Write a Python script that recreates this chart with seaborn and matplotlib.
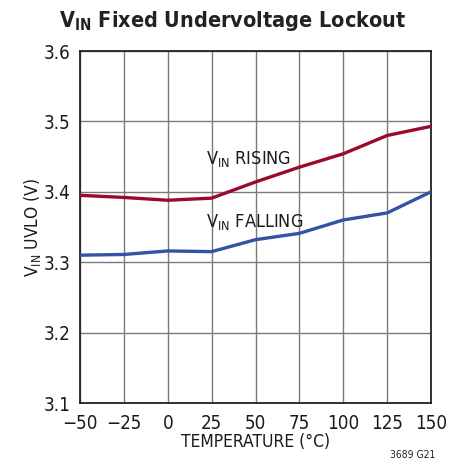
import pandas as pd
import matplotlib.pyplot as plt
import seaborn as sns

temperature = [-50, -25, 0, 25, 50, 75, 100, 125, 150]
uvlo_rising = [3.395, 3.392, 3.388, 3.391, 3.414, 3.435, 3.454, 3.480, 3.493]
uvlo_falling = [3.310, 3.311, 3.316, 3.315, 3.332, 3.341, 3.360, 3.370, 3.400]

x_ticks = [-50, -25, 0, 25, 50, 75, 100, 125, 150]
x_tick_labels = ["\u221250", "\u221225", "0", "25", "50", "75", "100", "125", "150"]
y_ticks = [3.1, 3.2, 3.3, 3.4, 3.5, 3.6]


def create_plot():
    sns.set_style("white")
    plt.rcParams['font.family'] = ['DejaVu Sans']
    plt.rcParams['font.stretch'] = 'condensed'
    plt.rcParams['mathtext.fontset'] = 'custom'

    df = pd.DataFrame({
        'temp': temperature * 2,
        'uvlo': uvlo_rising + uvlo_falling,
        'series': ['rising'] * len(temperature) + ['falling'] * len(temperature),
    })

    fig = plt.figure(figsize=(4.66, 4.65), dpi=100)
    ax = fig.add_axes([0.1717, 0.1333, 0.7532, 0.757])

    sns.lineplot(data=df, x='temp', y='uvlo', hue='series',
                 palette={'rising': '#9b0a2e', 'falling': '#3553a4'},
                 linewidth=2.4, legend=False, ax=ax, zorder=3)

    ax.set_xlim(-50, 150)
    ax.set_ylim(3.1, 3.6)
    ax.set_xticks(x_ticks)
    ax.set_xticklabels(x_tick_labels)
    ax.set_yticks(y_ticks)
    ax.set_yticklabels([f"{v:.1f}" for v in y_ticks])
    ax.tick_params(axis='both', length=0, labelsize=13.5, colors='#1a1a1a')
    ax.tick_params(axis='x', pad=8)
    ax.tick_params(axis='y', pad=7)
    ax.grid(True, color='#7a7a7a', linewidth=1.0)
    for sp in ax.spines.values():
        sp.set_color('#222222')
        sp.set_linewidth(1.3)

    ax.set_xlabel("TEMPERATURE (\u00b0C)", fontsize=12.5, color='#1a1a1a', labelpad=0)
    ax.set_ylabel(r"V$_{\mathregular{IN}}$ UVLO (V)", fontsize=12.5, color='#1a1a1a', labelpad=0.5)

    ax.text(22, 3.447, r"V$_{\mathregular{IN}}$ RISING", fontsize=13, color='#1a1a1a',
            va='center', ha='left')
    ax.text(22, 3.357, r"V$_{\mathregular{IN}}$ FALLING", fontsize=13, color='#1a1a1a',
            va='center', ha='left')

    fig.text(0.5, 0.955, r"V$_{\mathregular{IN}}$ Fixed Undervoltage Lockout",
             fontsize=15.5, fontweight='bold', ha='center', va='center', color='#222222')
    fig.text(0.885, 0.022, "3689 G21", fontsize=7.5, ha='center', va='center', color='#222222')

    plt.savefig("out.png", dpi=100)


if __name__ == "__main__":
    create_plot()
